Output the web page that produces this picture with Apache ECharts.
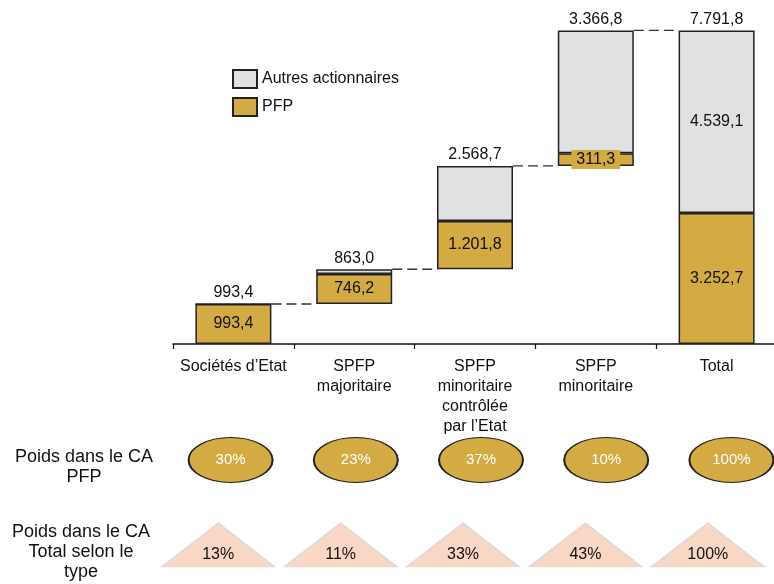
<!DOCTYPE html>
<html>
<head>
<meta charset="utf-8">
<script src="https://cdn.jsdelivr.net/npm/echarts@6/dist/echarts.min.js"></script>
<style>
  html, body { margin: 0; padding: 0; background: #fff; }
  #chart { width: 774px; height: 584px; }
</style>
</head>
<body>
<div id="chart"></div>
<script>
// Chiffre d'affaires par type de société (cascade) et poids relatifs
const categories = ['Sociétés d’Etat', 'SPFP\nmajoritaire', 'SPFP\nminoritaire\ncontrôlée\npar l’Etat', 'SPFP\nminoritaire', 'Total'];
const totalValues = [993.4, 863.0, 2568.7, 3366.8, 7791.8];
const pfpValues = [993.4, 746.2, 1201.8, 311.3, 3252.7];
const poidsCaPfp = [30, 23, 37, 10, 100];
const poidsCaTotal = [13, 11, 33, 43, 100];

const FONT = 'Liberation Sans, Arial, sans-serif';
const GOLD = '#D3AB42';
const GREY = '#E1E1E1';
const EDGE = '#222222';
const BAR_W = 76;

const lastIdx = categories.length - 1;

// "Autres actionnaires" = total - PFP
const autresValues = totalValues.map((t, i) => +(t - pfpValues[i]).toFixed(1));

// Invisible base of each step of the cascade; the last bar stands on zero
const baseValues = [];
let running = 0;
totalValues.forEach((t, i) => {
  if (i === lastIdx) { baseValues.push(0); }
  else { baseValues.push(+running.toFixed(1)); running += t; }
});
const tops = totalValues.map((t, i) => +(baseValues[i] + t).toFixed(1));

function fmt(v) {
  const parts = v.toFixed(1).split('.');
  return parts[0].replace(/\B(?=(\d{3})+(?!\d))/g, '.') + ',' + parts[1];
}

const chart = echarts.init(document.getElementById('chart'));

chart.setOption({
  animation: false,
  textStyle: { fontFamily: FONT },
  legend: {
    data: ['Autres actionnaires', 'PFP'],
    orient: 'vertical',
    left: 232,
    top: 69,
    padding: 0,
    icon: 'rect',
    itemWidth: 24,
    itemHeight: 18,
    itemGap: 8,
    selectedMode: false,
    textStyle: { fontSize: 16, color: '#111', fontFamily: FONT }
  },
  grid: [
    { left: 173, top: 22, width: 604, height: 322, outerBoundsMode: 'none', containLabel: false },
    { left: 168, top: 430, width: 626, height: 60, outerBoundsMode: 'none', containLabel: false },
    { left: 157, top: 515, width: 612, height: 60, outerBoundsMode: 'none', containLabel: false }
  ],
  xAxis: [
    {
      gridIndex: 0,
      type: 'category',
      data: categories,
      axisLine: { lineStyle: { color: '#111', width: 1.5 } },
      axisTick: { show: true, length: 5, lineStyle: { color: '#111', width: 1.2 } },
      axisLabel: {
        interval: 0,
        margin: 13,
        fontSize: 16,
        lineHeight: 20,
        color: '#111',
        fontFamily: FONT
      }
    },
    { gridIndex: 1, type: 'category', data: categories, show: false },
    { gridIndex: 2, type: 'category', data: categories, show: false }
  ],
  yAxis: [
    { gridIndex: 0, type: 'value', min: 0, max: 8000, show: false },
    { gridIndex: 1, type: 'value', min: -1, max: 1, show: false },
    { gridIndex: 2, type: 'value', min: -1, max: 1, show: false }
  ],
  series: [
    {
      name: 'base',
      type: 'bar',
      stack: 'cascade',
      barWidth: BAR_W,
      silent: true,
      itemStyle: { color: 'transparent', borderColor: 'transparent', borderWidth: 0 },
      data: baseValues
    },
    {
      name: 'PFP',
      type: 'bar',
      stack: 'cascade',
      barWidth: BAR_W,
      itemStyle: { color: GOLD, borderColor: EDGE, borderWidth: 1.5 },
      label: {
        show: true,
        position: 'inside',
        fontSize: 16,
        color: '#111',
        fontFamily: FONT,
        formatter: p => fmt(p.value)
      },
      data: pfpValues.map((v) => {
        // thin segment: label drawn on a gold plate over the bar
        if (v * 0.04 < 20) {
          return { value: v, label: { backgroundColor: GOLD, padding: [2, 5, 1, 5] } };
        }
        return v;
      })
    },
    {
      name: 'Autres actionnaires',
      type: 'bar',
      stack: 'cascade',
      barWidth: BAR_W,
      itemStyle: { color: GREY, borderColor: EDGE, borderWidth: 1.5 },
      label: {
        show: true,
        position: 'inside',
        fontSize: 16,
        color: '#111',
        fontFamily: FONT,
        formatter: p => (p.dataIndex === lastIdx ? fmt(p.value) : '')
      },
      data: autresValues
    },
    {
      // dashed connectors between consecutive bars
      name: 'liaisons',
      type: 'custom',
      silent: true,
      z: 1,
      data: tops.slice(0, lastIdx).map((t, i) => [i, t]),
      renderItem: (params, api) => {
        const a = api.coord([api.value(0), api.value(1)]);
        const b = api.coord([api.value(0) + 1, api.value(1)]);
        return {
          type: 'line',
          shape: { x1: a[0] + BAR_W / 2, y1: a[1], x2: b[0] - BAR_W / 2, y2: b[1] },
          style: { stroke: '#333', lineWidth: 1.4, lineDash: [10, 5] }
        };
      }
    },
    {
      // value written above each bar
      name: 'sommets',
      type: 'custom',
      silent: true,
      z: 5,
      data: tops.map((t, i) => [i, t, totalValues[i]]),
      renderItem: (params, api) => {
        const p = api.coord([api.value(0), api.value(1)]);
        return {
          type: 'text',
          style: {
            x: p[0], y: p[1] - 3,
            text: fmt(api.value(2)),
            align: 'center', verticalAlign: 'bottom',
            font: '16px ' + FONT, fill: '#111'
          }
        };
      }
    },
    {
      name: 'Poids CA PFP',
      type: 'scatter',
      xAxisIndex: 1,
      yAxisIndex: 1,
      clip: false,
      silent: true,
      symbol: 'circle',
      symbolSize: [84, 45],
      itemStyle: { color: GOLD, borderColor: EDGE, borderWidth: 1.5, opacity: 1 },
      label: {
        show: true,
        position: 'inside',
        fontSize: 15,
        color: '#fff',
        fontFamily: FONT,
        formatter: p => p.value[2] + '%'
      },
      data: poidsCaPfp.map((v, i) => [i, 0, v])
    },
    {
      name: 'Poids CA Total',
      type: 'scatter',
      xAxisIndex: 2,
      yAxisIndex: 2,
      clip: false,
      silent: true,
      symbol: 'triangle',
      symbolSize: [113, 44],
      itemStyle: { color: '#F9D7C5', borderColor: '#DADADA', borderWidth: 1.2, opacity: 1 },
      label: {
        show: true,
        position: 'inside',
        offset: [0, 10],
        fontSize: 16,
        color: '#111',
        fontFamily: FONT,
        formatter: p => p.value[2] + '%'
      },
      data: poidsCaTotal.map((v, i) => [i, 0, v])
    }
  ],
  graphic: [
    {
      type: 'text',
      style: {
        text: 'Poids dans le CA\nPFP',
        x: 84, y: 467,
        align: 'center', verticalAlign: 'middle',
        font: '18px ' + FONT, lineHeight: 20, fill: '#111'
      }
    },
    {
      type: 'text',
      style: {
        text: 'Poids dans le CA\nTotal selon le\ntype',
        x: 81, y: 552,
        align: 'center', verticalAlign: 'middle',
        font: '18px ' + FONT, lineHeight: 20, fill: '#111'
      }
    }
  ]
});
</script>
</body>
</html>
